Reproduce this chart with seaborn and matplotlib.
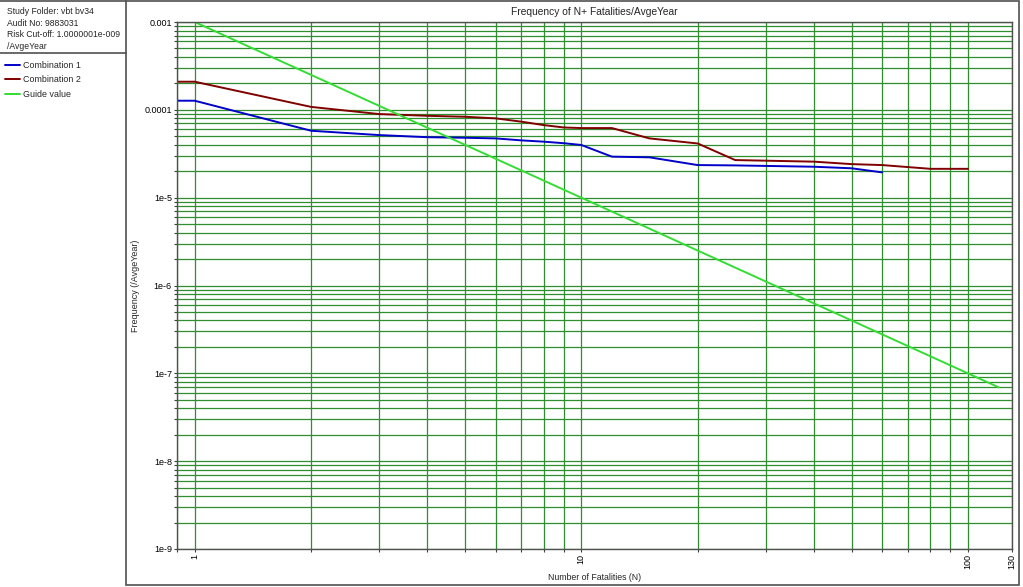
import matplotlib
matplotlib.use("Agg")
import matplotlib.pyplot as plt
import matplotlib.ticker as mticker
from matplotlib.lines import Line2D
from matplotlib.patches import Rectangle
import seaborn as sns
import pandas as pd

# ---- data ----
combo1_n = [0.9, 1, 2, 3, 4, 5, 6, 7, 8, 9, 10, 12, 15, 20, 25, 40, 50, 60]
combo1_f = [1.27e-4, 1.27e-4, 5.78e-5, 5.16e-5, 4.88e-5, 4.81e-5, 4.73e-5, 4.49e-5,
            4.34e-5, 4.17e-5, 3.98e-5, 2.93e-5, 2.88e-5, 2.35e-5, 2.33e-5, 2.25e-5,
            2.16e-5, 1.94e-5]
combo2_n = [0.9, 1, 2, 3, 4, 5, 6, 7, 8, 9, 10, 12, 15, 20, 25, 40, 50, 60, 80, 100]
combo2_f = [2.09e-4, 2.09e-4, 1.08e-4, 8.95e-5, 8.55e-5, 8.34e-5, 8.0e-5, 7.33e-5,
            6.7e-5, 6.3e-5, 6.2e-5, 6.2e-5, 4.73e-5, 4.14e-5, 2.68e-5, 2.57e-5,
            2.41e-5, 2.35e-5, 2.13e-5, 2.13e-5]
guide_n = [1, 120]
guide_f = [1e-3, 6.94e-8]

series_names = ["Combination 1", "Combination 2", "Guide value"]
series_colors = ["#0000c8", "#800000", "#33dd33"]

x_ticks = [1, 10, 100, 130]
x_tick_labels = ["1", "10", "100", "130"]
y_ticks = [1e-3, 1e-4, 1e-5, 1e-6, 1e-7, 1e-8, 1e-9]
y_tick_labels = ["0.001", "0.0001", "1e-5", "1e-6", "1e-7", "1e-8", "1e-9"]

info_lines = ["Study Folder: vbt bv34", "Audit No: 9883031",
              "Risk Cut-off: 1.0000001e-009", "/AvgeYear"]

title = "Frequency of N+ Fatalities/AvgeYear"
xlabel = "Number of Fatalities (N)"
ylabel = "Frequency (/AvgeYear)"

df = pd.concat([
    pd.DataFrame({"N": combo1_n, "F": combo1_f, "series": series_names[0]}),
    pd.DataFrame({"N": combo2_n, "F": combo2_f, "series": series_names[1]}),
    pd.DataFrame({"N": guide_n, "F": guide_f, "series": series_names[2]}),
], ignore_index=True)

sns.set_style("white")
plt.rcParams["font.family"] = ["Liberation Sans", "DejaVu Sans"]
FS = 6.5
plt.rcParams["font.size"] = FS

W, H = 1023, 587
fig = plt.figure(figsize=(W / 100, H / 100), dpi=100)
fig.patch.set_facecolor("white")

x0, x1, y0, y1 = 177, 1012, 22, 549
ax = fig.add_axes([x0 / W, 1 - y1 / H, (x1 - x0) / W, (y1 - y0) / H])

sns.lineplot(data=df, x="N", y="F", hue="series", hue_order=series_names,
             palette=dict(zip(series_names, series_colors)), estimator=None,
             sort=False, linewidth=1.4, ax=ax, legend=True)

ax.set_xscale("log")
ax.set_yscale("log")
ax.set_xlim(0.9, 130)
ax.set_ylim(1e-9, 1e-3)

ax.xaxis.set_major_locator(mticker.FixedLocator(x_ticks))
ax.xaxis.set_major_formatter(mticker.FixedFormatter(x_tick_labels))
ax.xaxis.set_minor_locator(mticker.LogLocator(base=10, subs=range(2, 10), numticks=20))
ax.xaxis.set_minor_formatter(mticker.NullFormatter())
ax.yaxis.set_major_locator(mticker.FixedLocator(y_ticks))
ax.yaxis.set_major_formatter(mticker.FixedFormatter(y_tick_labels))
ax.yaxis.set_minor_locator(mticker.LogLocator(base=10, subs=range(2, 10), numticks=20))
ax.yaxis.set_minor_formatter(mticker.NullFormatter())

grid_color = "#2f8f2f"
ax.grid(True, which="both", color=grid_color, linewidth=0.9)
ax.set_axisbelow(True)

ax.tick_params(axis="both", which="both", direction="out", length=2.5, width=0.8,
               color="#404040", labelsize=FS, pad=1.2, labelcolor="black")
ax.tick_params(axis="x", which="both", bottom=True, labelrotation=90)
ax.tick_params(axis="y", which="both", left=True)
for s in ax.spines.values():
    s.set_color("#505050")
    s.set_linewidth(1.0)

ax.set_title(title, fontsize=7.4, pad=5)
ax.set_xlabel(xlabel, fontsize=6.3, va="center")
ax.xaxis.set_label_coords(0.5, -(577 - y1) / (y1 - y0))
ax.set_ylabel(ylabel, fontsize=6.5, va="center")
ax.yaxis.set_label_coords(-(x0 - 136) / (x1 - x0), 0.5)

handles, labels = ax.get_legend_handles_labels()
ax.get_legend().remove()
fig.legend(handles, labels, loc="upper left", bbox_to_anchor=(5 / W, 1 - 61 / H),
           frameon=False, fontsize=6.4, handlelength=1.7, handletextpad=0.3,
           labelspacing=0.6, borderaxespad=0.0, borderpad=0.0)

for i, line in enumerate(info_lines):
    fig.text(7 / W, 1 - (12 + 11.4 * i) / H, line, fontsize=6.2, va="center", ha="left")

# panel frames
edge = "#505050"
fig.add_artist(Rectangle((126 / W, 1 - 585 / H), (1019 - 126) / W, (585 - 1) / H,
                         transform=fig.transFigure, fill=False, edgecolor=edge, linewidth=1.2))
fig.add_artist(Line2D([0, 126 / W], [1 - 53 / H, 1 - 53 / H], transform=fig.transFigure,
                      color=edge, linewidth=1.2))
fig.add_artist(Line2D([0, 126 / W], [1 - 1 / H, 1 - 1 / H], transform=fig.transFigure,
                      color=edge, linewidth=1.2))

fig.savefig("out.png", dpi=100)
